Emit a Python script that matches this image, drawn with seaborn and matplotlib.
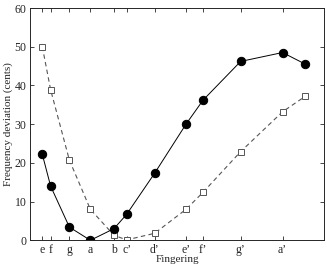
import matplotlib
matplotlib.use("Agg")
import matplotlib.pyplot as plt
import pandas as pd
import seaborn as sns

# fingering notes and their nominal frequencies (Hz)
notes = ["e", "f", "g", "a", "b", "c'", "d'", "e'", "f'", "g'", "a'", "bb'"]
freqs = [330, 349, 392, 440, 494, 523, 587, 659, 698, 784, 880, 932]
tick_labels = ["e", "f", "g", "a", "b", "c\u2019", "d\u2019", "e\u2019", "f\u2019", "g\u2019", "a\u2019"]

dev_filled = [22.2, 14.0, 3.4, 0.0, 3.0, 6.7, 17.3, 30.0, 36.2, 46.2, 48.5, 45.5]
dev_open = [50.0, 38.9, 20.7, 8.0, 1.3, 0.1, 1.8, 8.0, 12.4, 22.9, 33.2, 37.2]

df = pd.DataFrame({"freq": freqs, "filled": dev_filled, "open": dev_open})

sns.set_style("ticks")
plt.rcParams["font.family"] = ["Liberation Serif", "DejaVu Serif"]

fig = plt.figure(figsize=(3.27, 2.67), dpi=100)
ax = fig.add_axes([0.092, 0.1, 0.899, 0.87])

sns.lineplot(data=df, x="freq", y="open", ax=ax, color="#555555", lw=0.8,
             linestyle=(0, (4, 3)), marker="s", markersize=5,
             markerfacecolor="white", markeredgecolor="#555555", markeredgewidth=0.7)
sns.lineplot(data=df, x="freq", y="filled", ax=ax, color="black", lw=0.7,
             marker="o", markersize=6, markerfacecolor="black", markeredgecolor="black")

ax.set_xlim(302, 975)
ax.set_ylim(0, 60)
ax.set_xticks(freqs[:len(tick_labels)])
ax.set_xticklabels(tick_labels)
ax.set_yticks(range(0, 61, 10))
ax.tick_params(direction="in", top=True, right=True, length=3, width=0.6, pad=2.5, labelsize=8.5)
for s in ax.spines.values():
    s.set_linewidth(0.7)
ax.set_xlabel("Fingering", labelpad=-0.5, fontsize=8)
ax.set_ylabel("Frequency deviation (cents)", labelpad=1, fontsize=8)

fig.savefig("out.png", dpi=100)
